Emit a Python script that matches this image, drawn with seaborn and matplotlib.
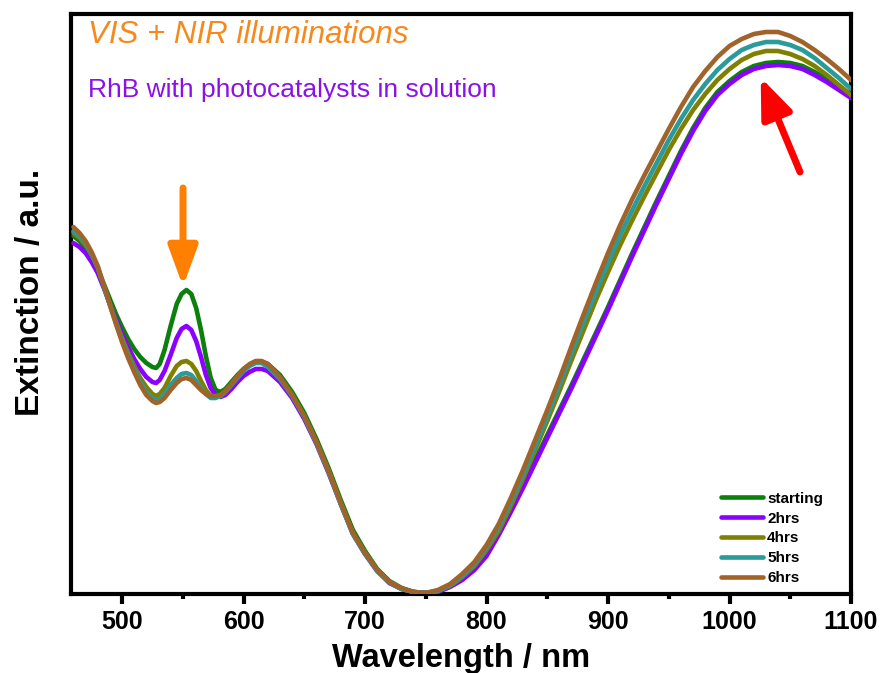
import matplotlib
matplotlib.use("Agg")
import matplotlib.pyplot as plt
from matplotlib.ticker import MultipleLocator
import seaborn as sns
import pandas as pd

# Extinction spectra of RhB + photocatalysts under VIS + NIR illumination
wavelength = [460, 465, 470, 475, 480, 485, 490, 495, 500, 505, 510, 515, 520, 525, 528,
              531, 535, 540, 545, 549, 553, 557, 561, 565, 569, 573, 577, 581, 585, 590,
              595, 600, 605, 610, 615,
              620, 630, 640, 650, 660, 670, 680, 690, 700, 710, 720, 730, 740, 750, 760,
              770, 780, 790,
              800, 810, 820, 830, 840, 850, 860, 870, 880, 890, 900, 910, 920, 930, 940,
              950, 960, 970, 980, 990, 1000, 1010, 1020, 1030, 1040, 1050, 1060, 1070,
              1080, 1090, 1100]

ext_starting = [358, 353, 346, 336, 324, 310, 295, 280, 267, 255, 245, 237, 231, 227, 226,
                230, 244, 268, 290, 300, 304, 300, 286, 264, 238, 216, 204, 202, 205, 212,
                219, 225, 229, 232, 232,
                230, 219, 202, 181, 155, 126, 94, 64, 43, 25, 13, 6, 2, 1, 3,
                8, 16, 27,
                41, 62, 85, 109, 134, 159, 184, 209, 235, 261, 287, 314, 341, 367, 393,
                418, 443, 466, 486, 502, 513, 522, 528, 531, 532, 531, 528, 522,
                515, 506, 498]

ext_2hrs = [351, 347, 341, 332, 321, 306, 290, 275, 260, 247, 235, 225, 217, 212, 211,
            214, 223, 239, 256, 265, 268, 264, 253, 237, 219, 206, 199, 197, 199, 205,
            212, 218, 222, 225, 225,
            223, 212, 196, 175, 150, 121, 90, 60, 40, 23, 11, 5, 2, 1, 2,
            7, 14, 24,
            38, 59, 82, 106, 131, 156, 181, 206, 232, 258, 284, 311, 338, 364, 390,
            415, 440, 463, 483, 499, 510, 519, 525, 528, 529, 528, 525, 519,
            512, 504, 496]

ext_4hrs = [361, 356, 349, 339, 326, 308, 290, 272, 256, 241, 228, 216, 207, 200, 198,
            200, 206, 218, 228, 232, 233, 230, 223, 213, 204, 198, 197, 198, 202, 209,
            217, 224, 229, 232, 232,
            228, 216, 199, 178, 152, 123, 91, 61, 41, 24, 12, 5, 2, 1, 3,
            8, 17, 28,
            44, 63, 88, 115, 144, 173, 203, 234, 264, 294, 322, 349, 374, 398, 421,
            444, 465, 484, 500, 514, 525, 534, 540, 543, 543, 540, 535, 528,
            519, 509, 499]

ext_5hrs = [363, 358, 351, 340, 327, 308, 289, 271, 254, 238, 225, 212, 202, 196, 194,
            195, 200, 209, 216, 220, 221, 219, 213, 206, 200, 196, 196, 198, 202, 209,
            216, 223, 228, 231, 231,
            227, 215, 198, 177, 151, 122, 90, 60, 40, 23, 12, 5, 2, 1, 3,
            9, 18, 30,
            47, 67, 92, 119, 148, 178, 209, 241, 272, 302, 331, 359, 384, 408, 431,
            454, 475, 494, 510, 524, 535, 544, 549, 552, 552, 549, 544, 536,
            526, 516, 505]

ext_6hrs = [367, 361, 353, 342, 328, 309, 289, 270, 252, 236, 222, 209, 199, 193, 191,
            192, 196, 204, 211, 215, 216, 214, 209, 204, 200, 198, 198, 199, 203, 210,
            218, 225, 230, 233, 233,
            230, 217, 199, 178, 152, 123, 91, 61, 41, 24, 12, 6, 2, 1, 4,
            10, 20, 32,
            49, 70, 96, 124, 154, 184, 215, 248, 280, 311, 341, 369, 395, 419, 442,
            465, 487, 507, 523, 537, 548, 555, 560, 562, 562, 558, 552, 544,
            535, 525, 514]

labels = ["starting", "2hrs", "4hrs", "5hrs", "6hrs"]
series = [ext_starting, ext_2hrs, ext_4hrs, ext_5hrs, ext_6hrs]
colors = ["#0c7f0c", "#8b00ff", "#808000", "#2a9a9a", "#a0642a"]

df = pd.concat(
    [pd.DataFrame({"Wavelength": wavelength, "Extinction": vals, "Time": lab})
     for lab, vals in zip(labels, series)],
    ignore_index=True,
)

sns.set_style("white", rc={"text.color": "black", "axes.labelcolor": "black",
                           "xtick.color": "black", "ytick.color": "black"})
plt.rcParams["font.family"] = ["Liberation Sans", "DejaVu Sans"]

fig = plt.figure(figsize=(8.82, 6.73), dpi=100)
ax = fig.add_axes([0.0805, 0.1174, 0.8844, 0.8618])

sns.lineplot(data=df, x="Wavelength", y="Extinction", hue="Time", hue_order=labels,
             palette=dict(zip(labels, colors)), linewidth=3.3, estimator=None,
             solid_joinstyle="round", solid_capstyle="round", ax=ax, zorder=3)

ax.set_xlim(458, 1100)
ax.set_ylim(0, 580)
ax.xaxis.set_major_locator(MultipleLocator(100))
ax.xaxis.set_minor_locator(MultipleLocator(50))
ax.set_yticks([])

for s in ax.spines.values():
    s.set_visible(True)
    s.set_linewidth(3)
    s.set_color("black")

ax.tick_params(axis="x", which="major", direction="out", length=7.5, width=3,
               labelsize=18, pad=4, bottom=True, top=False, color="black",
               labelcolor="black")
ax.tick_params(axis="x", which="minor", direction="out", length=3.5, width=3,
               bottom=True, top=False, color="black")
for t in ax.get_xticklabels():
    t.set_fontweight("bold")

ax.set_xlabel("Wavelength / nm", fontsize=23.5, fontweight="bold", color="black")
ax.set_ylabel("Extinction / a.u.", fontsize=24, fontweight="bold", color="black")
ax.xaxis.set_label_coords(0.5, -0.084)
ax.yaxis.set_label_coords(-0.032, 0.52)

ax.legend(loc="lower right", bbox_to_anchor=(0.964, 0.0155), frameon=False,
          prop={"size": 11, "weight": "bold"}, handlelength=2.75, handletextpad=0.25,
          labelspacing=0.38, borderpad=0, borderaxespad=0)

ax.text(0.022, 0.950, "VIS + NIR illuminations", transform=ax.transAxes,
        fontsize=22.5, style="italic", color="#f7891c", va="baseline", ha="left")
ax.text(0.022, 0.857, "RhB with photocatalysts in solution", transform=ax.transAxes,
        fontsize=19, color="#8a12e6", va="baseline", ha="left")

# downward arrow over the RhB band, upward arrow at the NIR plasmon peak
ax.annotate("", xy=(0.1436, 0.530), xytext=(0.1436, 0.700), xycoords="axes fraction",
            arrowprops=dict(arrowstyle="-|>,head_length=0.6,head_width=0.22",
                            mutation_scale=40, lw=5, color="#ff8000",
                            capstyle="round", shrinkA=0, shrinkB=0))
ax.annotate("", xy=(0.8842, 0.8905), xytext=(0.9346, 0.7276), xycoords="axes fraction",
            arrowprops=dict(arrowstyle="-|>,head_length=0.6,head_width=0.24",
                            mutation_scale=40, lw=5, color="#ff0000",
                            capstyle="round", shrinkA=0, shrinkB=0))

fig.savefig("out.png", dpi=100)
